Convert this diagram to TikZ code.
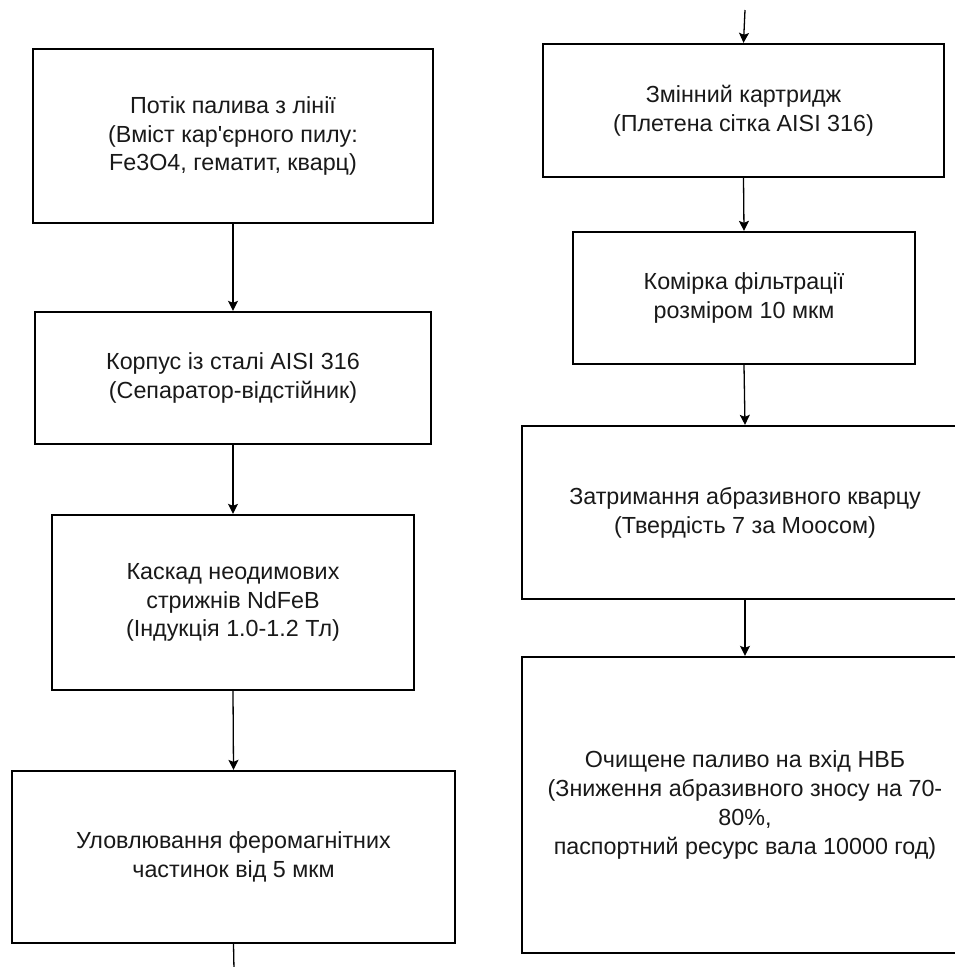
\documentclass[tikz,border=0pt]{standalone}
\usepackage{fontspec}
\newfontfamily\libsans{Liberation Sans}
\usetikzlibrary{arrows.meta}
\tikzset{
  x=1pt, y=-1pt,
  box/.style={draw=black, line width=2.3pt, fill=white, align=center, inner sep=0pt,
    font=\libsans\fontsize{23.3}{28.8}\selectfont, text=black!90},
  conn/.style={draw=black, line width=1.3pt, -{Stealth[length=10pt,width=10pt,inset=2pt]}},
  plain/.style={draw=black, line width=1.3pt}
}
\begin{document}
\begin{tikzpicture}
\useasboundingbox (0,0) rectangle (955,967);
\clip (0,0) rectangle (955,967);
\fill[white] (0,0) rectangle (955,967);
% left column
\node[box, minimum width=400pt, minimum height=174pt] (b1) at (233,136)
  {Потік палива з лінії\\(Вміст кар'єрного пилу:\\Fe3O4, гематит, кварц)};
\node[box, minimum width=396pt, minimum height=132pt] (b2) at (233,378)
  {Корпус із сталі AISI 316\\(Сепаратор-відстійник)};
\node[box, minimum width=362pt, minimum height=175pt] (b3) at (233,602.5)
  {Каскад неодимових\\стрижнів NdFeB\\(Індукція 1.0-1.2 Тл)};
\node[box, minimum width=443pt, minimum height=172pt] (b4) at (233.5,857)
  {Уловлювання феромагнітних\\частинок від 5 мкм};
% right column
\node[box, minimum width=401pt, minimum height=133pt] (b5) at (743.5,110.5)
  {Змінний картридж\\(Плетена сітка AISI 316)};
\node[box, minimum width=342pt, minimum height=132pt] (b6) at (744,298)
  {Комірка фільтрації\\розміром 10 мкм};
\node[box, minimum width=446pt, minimum height=173pt] (b7) at (745,512.5)
  {Затримання абразивного кварцу\\(Твердість 7 за Моосом)};
\node[box, minimum width=446pt, minimum height=296pt] (b8) at (745,805)
  {Очищене паливо на вхід НВБ\\(Зниження абразивного зносу на 70-\\80\%,\\паспортний ресурс вала 10000 год)};
\coordinate (topin) at (745,10);
\coordinate (botout) at (234,970);
% connectors
\draw[conn] (b1.south) -- (b2.north);
\draw[conn] (b2.south) -- (b3.north);
\draw[conn] (b3.south) -- (b4.north);
\draw[plain] (b4.south) -- (botout);
\draw[conn] (topin) -- (b5.north);
\draw[conn] (b5.south) -- (b6.north);
\draw[conn] (b6.south) -- (b7.north);
\draw[conn] (b7.south) -- (b8.north);
\end{tikzpicture}
\end{document}
